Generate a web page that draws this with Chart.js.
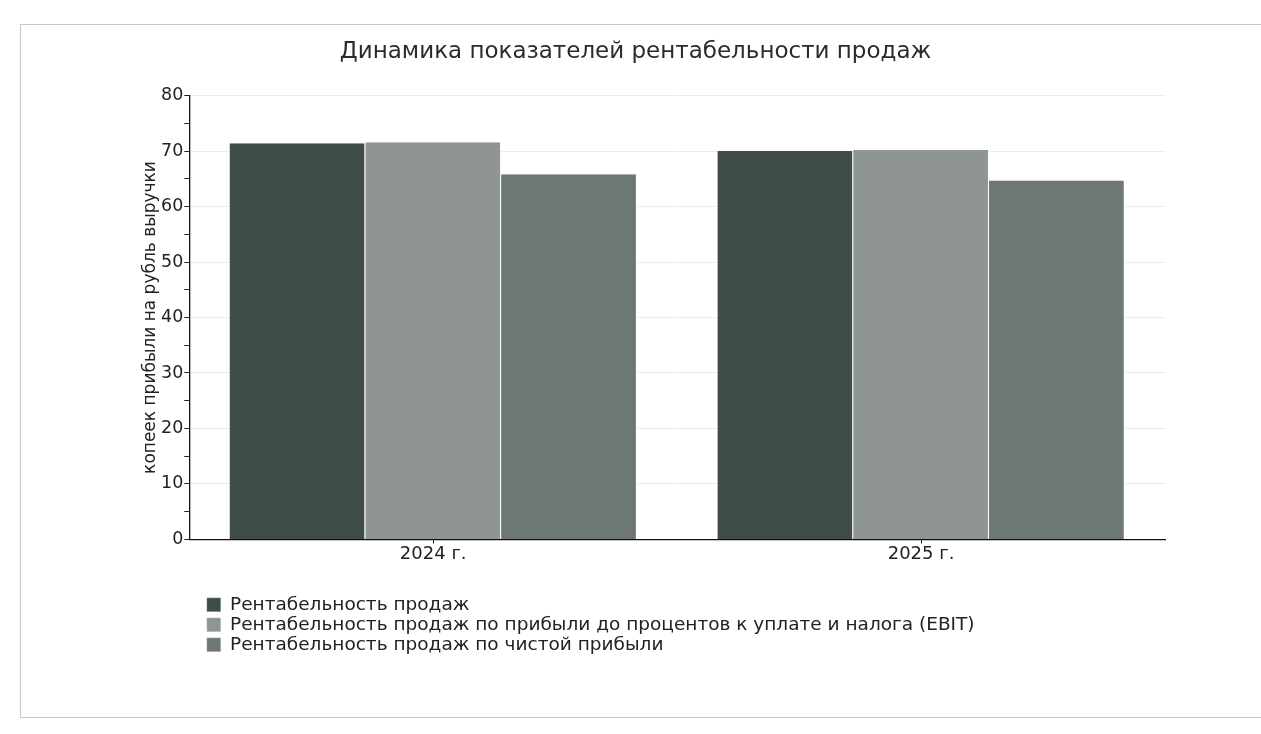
<!DOCTYPE html>
<html>
<head>
<meta charset="utf-8">
<script src="https://cdn.jsdelivr.net/npm/chart.js@4/dist/chart.umd.min.js"></script>
<style>
  html, body { margin: 0; padding: 0; background: #ffffff; }
  body { width: 1261px; height: 734px; position: relative; overflow: hidden; }
  #frame { position: absolute; left: 20px; top: 24px; width: 1260px; height: 692px;
           border-left: 1px solid #c8c8c8; border-top: 1px solid #c8c8c8; border-bottom: 1px solid #c8c8c8; }
  #wrap { position: absolute; left: 0; top: 0; width: 1261px; height: 734px; }
</style>
</head>
<body>
<div id="frame"></div>
<div id="wrap"><canvas id="c" width="1261" height="734"></canvas></div>
<script>
const chartTitle = 'Динамика показателей рентабельности продаж';
const yAxisTitle = 'копеек прибыли на рубль выручки';
const categories = ['2024 г.', '2025 г.'];
const seriesNames = [
  'Рентабельность продаж',
  'Рентабельность продаж по прибыли до процентов к уплате и налога (EBIT)',
  'Рентабельность продаж по чистой прибыли'
];
const salesMargin = [71.4, 70.0];
const ebitMargin = [71.6, 70.2];
const netMargin = [65.8, 64.7];
const seriesColors = ['#3e4e47', '#8f9692', '#6d7873'];
const yMin = 0, yMax = 80, yStep = 5, yLabelStep = 10;

const FONT = '"DejaVu Sans", "Noto Sans", sans-serif';
const seriesValues = [salesMargin, ebitMargin, netMargin];

const blockShift = {
  id: 'blockShift',
  afterLayout(chart) {
    if (chart.legend) { chart.legend.left += 16; chart.legend.right += 16; }
    if (chart.titleBlock) { chart.titleBlock.left -= 18; chart.titleBlock.right -= 18; }
  }
};

new Chart(document.getElementById('c'), {
  type: 'bar',
  data: {
    labels: categories,
    datasets: seriesNames.map((name, i) => ({
      label: name,
      data: seriesValues[i],
      backgroundColor: seriesColors[i],
      borderColor: '#ffffff',
      borderWidth: { left: 0, right: 1, top: 0, bottom: 0 },
      borderSkipped: false,
      categoryPercentage: 0.835,
      barPercentage: 1.0
    }))
  },
  plugins: [blockShift],
  options: {
    responsive: false,
    animation: false,
    devicePixelRatio: 1,
    layout: { padding: { top: 22, left: 142, right: 96, bottom: 70 } },
    plugins: {
      title: {
        display: true,
        text: chartTitle,
        color: '#2b2b2b',
        font: { family: FONT, size: 23, weight: 'normal' },
        padding: { top: 16, bottom: 30 }
      },
      legend: {
        display: true,
        position: 'bottom',
        align: 'start',
        fullSize: false,
        labels: {
          color: '#222222',
          font: { family: FONT, size: 18.5 },
          boxWidth: 14,
          boxHeight: 14,
          padding: 1.5
        }
      },
      tooltip: { enabled: false }
    },
    scales: {
      x: {
        offset: true,
        grid: { display: true, drawOnChartArea: false, offset: false, tickLength: 4, tickColor: '#111' },
        border: { display: true, color: '#111111', width: 1.3 },
        ticks: { color: '#222222', font: { family: FONT, size: 18 }, padding: 0 },
        afterFit: (scale) => { scale.height += 29; }
      },
      y: {
        min: yMin,
        max: yMax,
        grid: {
          drawOnChartArea: true,
          tickLength: 5,
          color: (ctx) => (ctx.tick && ctx.tick.value % yLabelStep === 0 && ctx.tick.value !== 0) ? '#ececec' : 'rgba(0,0,0,0)',
          tickColor: '#222222'
        },
        border: { display: true, color: '#111111', width: 1.3 },
        ticks: {
          stepSize: yStep,
          color: '#222222',
          font: { family: FONT, size: 17.5 },
          padding: 1,
          callback: (v) => (v % yLabelStep === 0 ? String(v) : '')
        },
        title: {
          display: true,
          text: yAxisTitle,
          color: '#222222',
          font: { family: FONT, size: 17, lineHeight: 1.0 },
          padding: { top: 0, bottom: 1 }
        }
      }
    }
  }
});
</script>
</body>
</html>
